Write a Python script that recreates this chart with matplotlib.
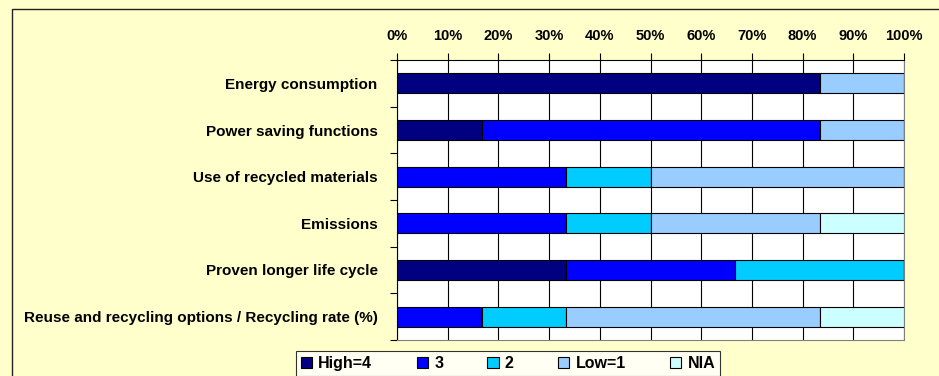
import matplotlib
matplotlib.use("Agg")
import matplotlib.pyplot as plt
from matplotlib.patches import Rectangle
import numpy as np

plt.rcParams['font.family'] = ['Liberation Sans', 'DejaVu Sans']

categories = ["Energy consumption", "Power saving functions", "Use of recycled materials",
              "Emissions", "Proven longer life cycle",
              "Reuse and recycling options / Recycling rate (%)"]
series_names = ["High=4", "3", "2", "Low=1", "NIA"]
high4 = [5, 1, 0, 0, 2, 0]
three = [0, 4, 2, 2, 2, 1]
two = [0, 0, 1, 1, 2, 1]
low1 = [1, 1, 3, 2, 0, 3]
nia = [0, 0, 0, 1, 0, 1]
colors = ["#000080", "#0000FF", "#00CCFF", "#99CCFF", "#CCFFFF"]
xticklabels = ["0%", "10%", "20%", "30%", "40%", "50%", "60%", "70%", "80%", "90%", "100%"]

W, H = 939, 376
fig = plt.figure(figsize=(W / 100, H / 100), dpi=100)
fig.patch.set_facecolor("#FFFFCC")
# chart area border
fig.add_artist(Rectangle((12 / W, -0.1), 1.2, 1 - 9 / H + 0.1, transform=fig.transFigure,
                         fill=False, edgecolor="#222222", linewidth=1.0))

ax = fig.add_axes([397 / W, 1 - 340 / H, (904 - 397) / W, (340 - 60) / H])
ax.set_facecolor("white")

data = np.array([high4, three, two, low1, nia], dtype=float)
totals = data.sum(axis=0)
pct = data / totals * 100
y = np.arange(len(categories))
left = np.zeros(len(categories))
for i, name in enumerate(series_names):
    ax.barh(y, pct[i], left=left, height=0.43, color=colors[i], edgecolor="black",
            linewidth=0.8, label=name, zorder=3)
    left += pct[i]

ax.set_ylim(len(categories) - 0.5, -0.5)
ax.set_xlim(0, 100)
ax.xaxis.tick_top()
ax.set_xticks(np.arange(0, 101, 10))
ax.set_xticklabels(xticklabels, fontsize=10.5, fontweight="bold")
ax.tick_params(axis='x', direction='out', length=5, width=0.8, pad=7, top=True, bottom=False)
ax.grid(axis='x', color='black', linewidth=0.8, zorder=0)
ax.set_yticks(y)
ax.set_yticklabels(categories, fontsize=11, fontweight="bold")
ax.tick_params(axis='y', length=0, pad=14)
ax.set_yticks(np.arange(-0.5, len(categories), 1), minor=True)
ax.tick_params(axis='y', which='minor', length=5, width=0.8, direction='out')
for s in ax.spines.values():
    s.set_color("#808080")
    s.set_linewidth(0.8)
ax.spines['left'].set_color('black')
ax.spines['top'].set_color('black')

leg = fig.legend(loc='lower left', bbox_to_anchor=(288 / W, -0.02, (728 - 288) / W, 0.08),
                 ncol=5, mode='expand', frameon=True, fancybox=False,
                 prop={'weight': 'bold', 'size': 11.5}, handlelength=0.7, handleheight=0.7,
                 handletextpad=0.4, borderpad=0.3, columnspacing=1.0)
leg.get_frame().set_edgecolor('black')
leg.get_frame().set_linewidth(0.8)

fig.savefig("out.png", dpi=100, facecolor=fig.get_facecolor())
